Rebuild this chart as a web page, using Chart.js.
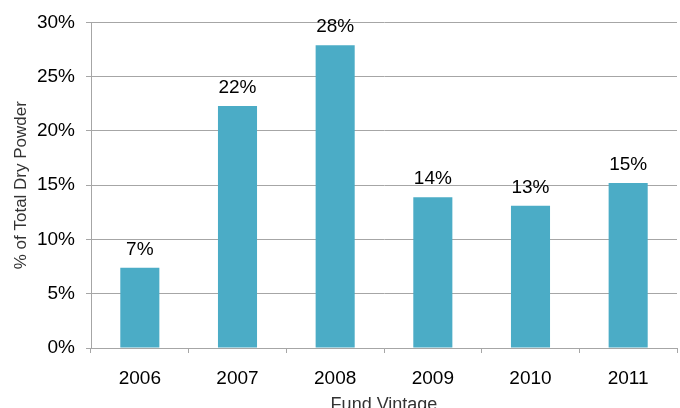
<!DOCTYPE html>
<html>
<head>
<meta charset="utf-8">
<script src="https://cdn.jsdelivr.net/npm/chart.js@4"></script>
<style>
  html, body { margin: 0; padding: 0; background: #fff; }
  #wrap { width: 680px; height: 408px; }
</style>
</head>
<body>
<div id="wrap"><canvas id="chart" width="680" height="408"></canvas></div>
<script>
  const vintages = ['2006', '2007', '2008', '2009', '2010', '2011'];
  const dryPowderShare = [7.4, 22.3, 27.9, 13.9, 13.1, 15.2];
  const yTicks = [0, 5, 10, 15, 20, 25, 30];

  const BAR_COLOR = '#4bacc6';
  const GRID_COLOR = '#a6a6a6';
  const FONT = 'Liberation Sans, Arial, sans-serif';

  // value labels above each bar
  const barLabels = {
    id: 'barLabels',
    afterDatasetsDraw(chart) {
      const ctx = chart.ctx;
      const meta = chart.getDatasetMeta(0);
      ctx.save();
      ctx.font = '19px ' + FONT;
      ctx.fillStyle = '#000';
      ctx.textAlign = 'center';
      ctx.textBaseline = 'alphabetic';
      meta.data.forEach((bar, i) => {
        ctx.fillText(Math.round(dryPowderShare[i]) + '%', bar.x, bar.y - 13);
      });
      ctx.restore();
    }
  };

  new Chart(document.getElementById('chart'), {
    type: 'bar',
    data: {
      labels: vintages,
      datasets: [{
        data: dryPowderShare,
        backgroundColor: BAR_COLOR,
        barPercentage: 0.4,
        categoryPercentage: 1
      }]
    },
    options: {
      responsive: false,
      animation: false,
      devicePixelRatio: 1,
      layout: { padding: { top: 3, right: 3, bottom: 0, left: 0 } },
      plugins: { legend: { display: false }, tooltip: { enabled: false } },
      scales: {
        x: {
          grid: { display: true, drawOnChartArea: false, offset: true, color: GRID_COLOR, tickLength: 5 },
          border: { color: GRID_COLOR, width: 1 },
          ticks: { color: '#000', font: { family: FONT, size: 19 }, padding: 14, maxRotation: 0 },
          title: { display: true, text: 'Fund Vintage', color: '#333', font: { family: FONT, size: 18 }, padding: { top: 0, bottom: -8 } },
          afterFit(scale) { scale.height = 60; }
        },
        y: {
          min: 0,
          max: 30,
          afterBuildTicks(scale) { scale.ticks = yTicks.map(v => ({ value: v })); },
          grid: { color: GRID_COLOR, tickLength: 5, lineWidth: 1 },
          border: { color: GRID_COLOR, width: 1 },
          ticks: {
            color: '#000',
            font: { family: FONT, size: 19 },
            padding: 11,
            callback: v => v + '%'
          },
          title: { display: true, text: '% of Total Dry Powder', color: '#333', font: { family: FONT, size: 17 }, padding: { top: 11, bottom: 0 } },
          afterFit(scale) { scale.width = 91; }
        }
      }
    },
    plugins: [barLabels]
  });
</script>
</body>
</html>
